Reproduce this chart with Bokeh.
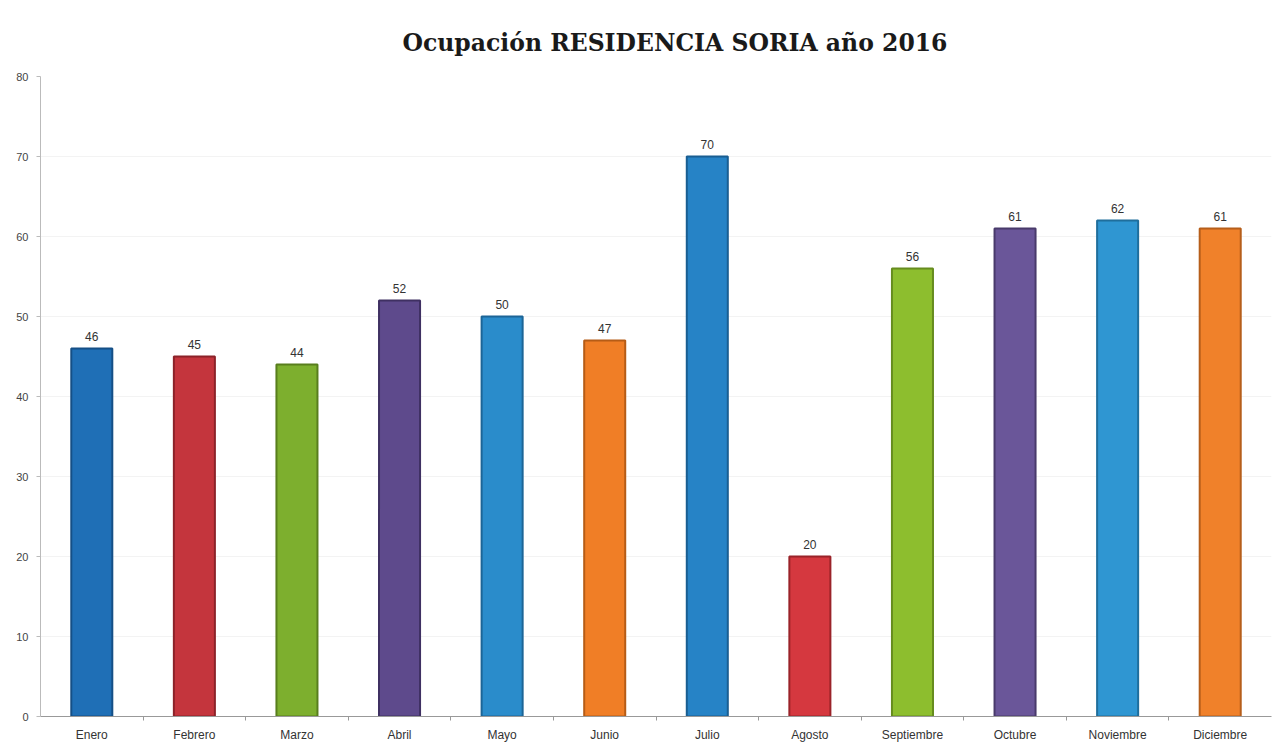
from bokeh.plotting import figure
from bokeh.models import ColumnDataSource, Range1d, FixedTicker, Title, LabelSet
from bokeh.core.properties import value
from bokeh.embed import file_html
from bokeh.resources import INLINE

months = ["Enero", "Febrero", "Marzo", "Abril", "Mayo", "Junio", "Julio",
          "Agosto", "Septiembre", "Octubre", "Noviembre", "Diciembre"]
values = [46, 45, 44, 52, 50, 47, 70, 20, 56, 61, 62, 61]
colors = ["#1F6FB6", "#C4353D", "#7DAF2E", "#5E4A8C", "#2A8CCB", "#F07E26",
          "#2683C6", "#D5383F", "#8DBE2E", "#6A5699", "#2F96D2", "#F0812A"]
edges = ["#154F86", "#8C2229", "#587E1D", "#3F3062", "#1C6597", "#B65C16",
         "#195E92", "#9A2329", "#668C1E", "#493A6B", "#1F6E9C", "#B65E1A"]
labels = [str(v) for v in values]

n = len(months)
xpos = [i + 0.5 for i in range(n)]
src = ColumnDataSource(dict(x=xpos, v=values, c=colors, e=edges, t=labels))

p = figure(x_range=Range1d(0, n), y_range=Range1d(0, 80), width=1279, height=744,
           output_backend="svg", toolbar_location=None,
           min_border_left=40, min_border_right=8, min_border_bottom=28, min_border_top=76)

p.title = Title(text="Ocupación RESIDENCIA SORIA año 2016", align="left",
                text_font="DejaVu Serif", text_font_style="bold", text_font_size="23.5px",
                text_color="#1a1a1a", offset=362, standoff=39)

p.vbar(x="x", top="v", width=0.4, source=src, fill_color="c", line_color="e", line_width=2)

p.add_layout(LabelSet(x="x", y="v", text="t", source=src, text_align="center",
                      text_baseline="bottom", y_offset=8, text_font=value("Liberation Sans"),
                      text_font_size="12px", text_color="#333333"))

p.outline_line_color = None
p.xgrid.grid_line_color = None
p.ygrid.grid_line_color = "#f3f3f3"
p.ygrid.ticker = FixedTicker(ticks=list(range(0, 81, 10)))

yax = p.yaxis[0]
yax.ticker = FixedTicker(ticks=list(range(0, 81, 10)))
yax.axis_line_color = "#bbbbbb"
yax.major_tick_line_color = "#bbbbbb"
yax.major_tick_out = 4
yax.major_tick_in = 0
yax.minor_tick_line_color = None
yax.major_label_text_font = "Liberation Sans"
yax.major_label_text_font_size = "11px"
yax.major_label_text_color = "#444444"
yax.major_label_standoff = 8

xax = p.xaxis[0]
xax.ticker = FixedTicker(ticks=xpos, minor_ticks=list(range(1, n)))
xax.major_label_overrides = {x: m for x, m in zip(xpos, months)}
xax.axis_line_color = "#999999"
xax.major_tick_line_color = None
xax.major_tick_out = 0
xax.major_tick_in = 0
xax.minor_tick_line_color = "#999999"
xax.minor_tick_out = 4
xax.minor_tick_in = 0
xax.major_label_text_font = "Liberation Sans"
xax.major_label_text_font_size = "12px"
xax.major_label_text_color = "#333333"
xax.major_label_standoff = 7

open("out.html", "w").write(file_html(p, INLINE))
